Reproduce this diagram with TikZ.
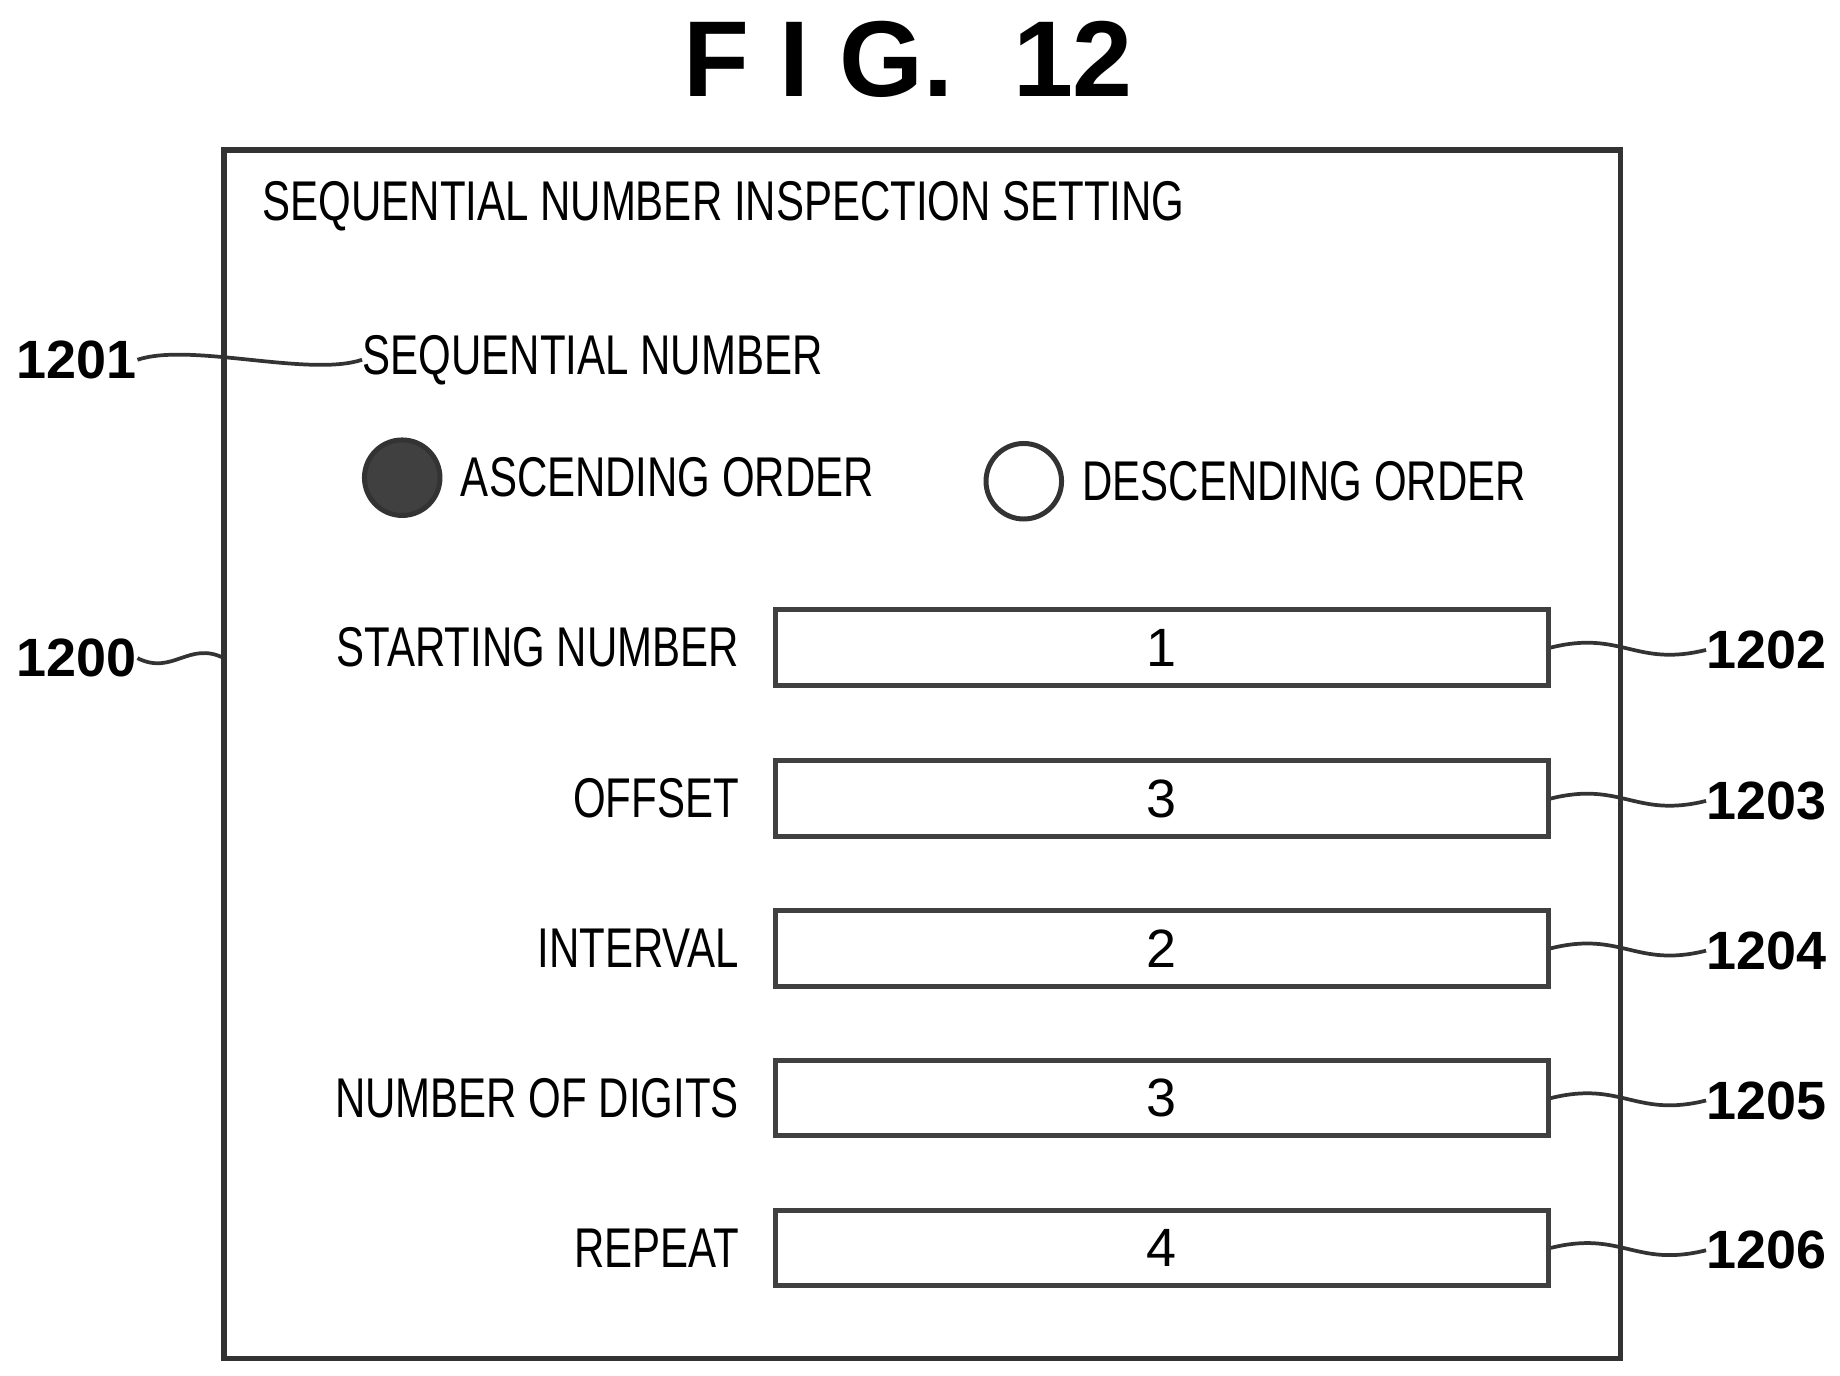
\documentclass[tikz,border=0pt]{standalone}
\usepackage{fontspec}
\setmainfont{Liberation Sans}
\usetikzlibrary{positioning,calc}
\newcommand{\narrow}[1]{\scalebox{0.75}[1]{#1}}
\begin{document}
\begin{tikzpicture}[
    x=0.01cm, y=-0.01cm,
    uitext/.style={inner sep=0pt, font=\fontsize{13.5}{16}\selectfont},
    reflabel/.style={inner sep=0pt, font=\fontsize{13}{16}\selectfont\bfseries},
    fieldbox/.style={rectangle, draw=black!75, line width=1.2pt, minimum width=6.55cm, minimum height=0.64cm, inner sep=0pt, font=\fontsize{13}{16}\selectfont},
    radiobutton/.style={circle, draw=black!80, line width=1.2pt, minimum size=0.64cm, inner sep=0pt},
    leader/.style={line width=0.9pt, black!80},
    ]
    \useasboundingbox (0,0) rectangle (1560,1166);

    %Title and frame
    \node[inner sep=0pt, font=\fontsize{26}{30}\selectfont\bfseries] (fig) at (770,50) {F I G.\ \ 12};
    \draw[line width=1.3pt, black!80] (190,127) rectangle (1374,1152);
    \coordinate (frameleft) at (190,558);
    \node[uitext, anchor=west] (heading) at (222,175) {\narrow{SEQUENTIAL NUMBER INSPECTION SETTING}};

    %Sequential number
    \node[uitext, anchor=west] (seqnum) at (307,305) {\narrow{SEQUENTIAL NUMBER}};
    \node[radiobutton, fill=black!75] (ascbtn)  at (341,405) {};
    \node[uitext, anchor=west] (asc)  [right=0.15cm of ascbtn]  {\narrow{ASCENDING ORDER}};
    \node[radiobutton]                (descbtn) at (868,408) {};
    \node[uitext, anchor=west] (desc) [right=0.15cm of descbtn] {\narrow{DESCENDING ORDER}};

    %Fields
    \node[fieldbox] (startbox)  at (985,549)  {1};
    \node[fieldbox] (offsetbox) at (985,677)  {3};
    \node[fieldbox] (intbox)    at (985,804)  {2};
    \node[fieldbox] (digitbox)  at (985,931)  {3};
    \node[fieldbox] (repbox)    at (985,1058) {4};
    \node[uitext, left=0.28cm of startbox]  (start)  {\narrow{STARTING NUMBER}};
    \node[uitext, left=0.28cm of offsetbox] (offset) {\narrow{OFFSET}};
    \node[uitext, left=0.28cm of intbox]    (int)    {\narrow{INTERVAL}};
    \node[uitext, left=0.28cm of digitbox]  (digit)  {\narrow{NUMBER OF DIGITS}};
    \node[uitext, left=0.28cm of repbox]    (rep)    {\narrow{REPEAT}};

    % Reference numerals
    \node[reflabel] (r1200) at (65,558)   {1200};
    \node[reflabel] (r1201) at (65,305)   {1201};
    \node[reflabel] (r1202) at (1498,551) {1202};
    \node[reflabel] (r1203) at (1498,679) {1203};
    \node[reflabel] (r1204) at (1498,806) {1204};
    \node[reflabel] (r1205) at (1498,933) {1205};
    \node[reflabel] (r1206) at (1498,1060) {1206};

    %Lines
    \draw[leader] (r1201.east) .. controls +(45,-15) and +(-45,15) .. (seqnum.west);
    \draw[leader] (r1200.east) .. controls +(30,15) and +(-30,-15) .. (frameleft);
    \draw[leader] (startbox.east)  .. controls +(60,-15) and +(-60,15) .. (r1202.west);
    \draw[leader] (offsetbox.east) .. controls +(60,-15) and +(-60,15) .. (r1203.west);
    \draw[leader] (intbox.east)    .. controls +(60,-15) and +(-60,15) .. (r1204.west);
    \draw[leader] (digitbox.east)  .. controls +(60,-15) and +(-60,15) .. (r1205.west);
    \draw[leader] (repbox.east)    .. controls +(60,-15) and +(-60,15) .. (r1206.west);
\end{tikzpicture}
\end{document}
